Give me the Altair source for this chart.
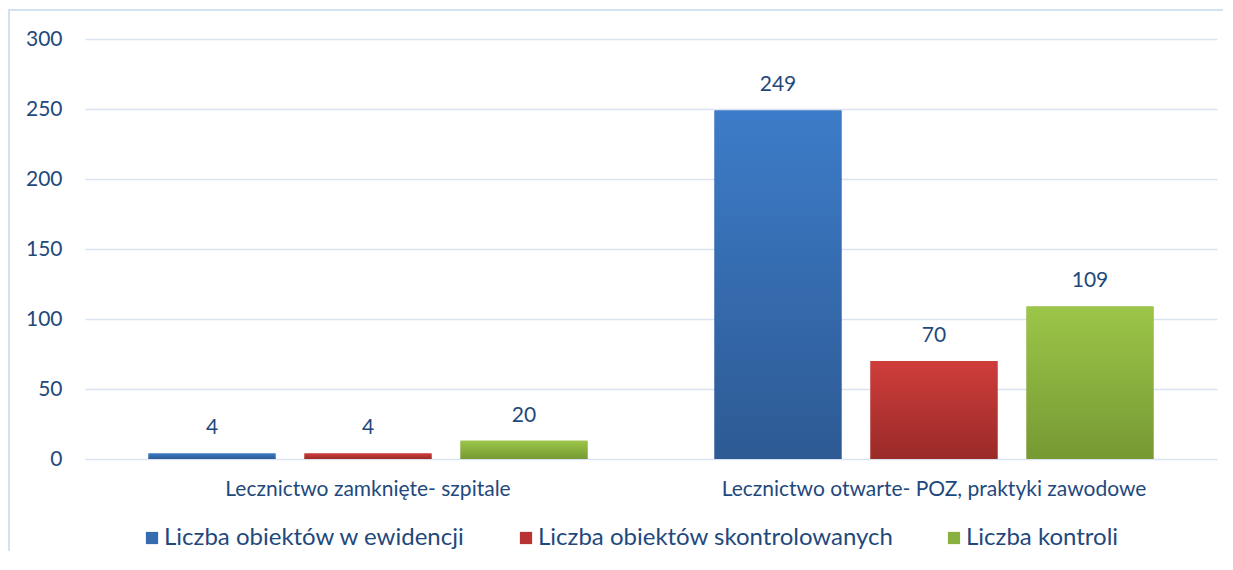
import altair as alt
import pandas as pd

categories = ["Lecznictwo zamknięte- szpitale", "Lecznictwo otwarte- POZ, praktyki zawodowe"]
series = ["Liczba obiektów w ewidencji", "Liczba obiektów skontrolowanych", "Liczba kontroli"]
values_ewidencja = [4, 249]
values_skontrolowane = [4, 70]
values_kontrole = [13, 109]
labels_ewidencja = ["4", "249"]
labels_skontrolowane = ["4", "70"]
labels_kontrole = ["20", "109"]

solid_colors = ["#356BAF", "#B83432", "#8AB03F"]
grad_top = ["#3D7CC9", "#CF3D3B", "#9CC649"]
grad_bottom = ["#2D5A93", "#992A28", "#769933"]

rows = []
for s, vals, labs in zip(series,
                         [values_ewidencja, values_skontrolowane, values_kontrole],
                         [labels_ewidencja, labels_skontrolowane, labels_kontrole]):
    for c, v, l in zip(categories, vals, labs):
        rows.append({"cat": c, "series": s, "value": v, "label": l})
df = pd.DataFrame(rows)

TEXT = "#1F497D"
FONT = "Lato"
FRAME = "#D3E0F2"

x = alt.X("cat:N", sort=categories,
          scale=alt.Scale(paddingInner=0, paddingOuter=0),
          axis=alt.Axis(title=None, labelAngle=0, ticks=False, domain=False,
                        labelFontSize=21, labelPadding=19, labelColor=TEXT,
                        labelFont=FONT, labelLimit=0, grid=False))
xo = alt.XOffset("series:N", sort=series,
                 scale=alt.Scale(domain=series, paddingInner=0.186, paddingOuter=0.407))
y = alt.Y("value:Q", scale=alt.Scale(domain=[0, 300]),
          axis=alt.Axis(title=None, values=[0, 50, 100, 150, 200, 250, 300],
                        ticks=False, domain=False, labelPadding=23,
                        labelFontSize=21, labelColor=TEXT, labelFont=FONT,
                        grid=True, gridColor="#D9E3F2", gridWidth=1.5))

base = alt.Chart(df)

legend_layer = base.mark_bar().encode(
    x=x, xOffset=xo, y=y,
    color=alt.Color("series:N", sort=series,
                    scale=alt.Scale(domain=series, range=solid_colors),
                    legend=alt.Legend(title=None, orient="none", direction="horizontal",
                                      legendX=55, legendY=487,
                                      symbolType="square", symbolSize=150,
                                      symbolStrokeWidth=0, labelFontSize=24,
                                      labelFont=FONT, labelColor=TEXT,
                                      labelOffset=0, columnPadding=48, labelLimit=0)))

layers = [legend_layer]
for s, t, b in zip(series, grad_top, grad_bottom):
    layers.append(
        base.transform_filter(alt.datum.series == s).mark_bar(
            color=alt.Gradient(gradient="linear",
                               stops=[alt.GradientStop(color=t, offset=0),
                                      alt.GradientStop(color=b, offset=1)],
                               x1=0, x2=0, y1=0, y2=1)
        ).encode(x=x, xOffset=xo, y=y)
    )

text_layer = base.mark_text(dy=-25, baseline="middle", fontSize=21, color=TEXT, font=FONT).encode(
    x=x, xOffset=xo, y=y, text="label:N")
layers.append(text_layer)

frame_top = alt.Chart(df).mark_rule(color=FRAME, strokeWidth=1.5).encode(
    x=alt.value(-77), x2=alt.value(1140), y=alt.value(-29))
frame_left = alt.Chart(df).mark_rule(color=FRAME, strokeWidth=1.5).encode(
    x=alt.value(-76), y=alt.value(-29), y2=alt.value(520))
layers.extend([frame_top, frame_left])

chart = alt.layer(*layers).properties(
    width=1132, height=420,
    autosize=alt.AutoSizeParams(type="none"),
    padding={"left": 77, "top": 31, "right": 6, "bottom": 92},
    background="white",
).configure_view(stroke=None)

chart.save("out.html", embed_options={"renderer": "svg", "actions": False})
